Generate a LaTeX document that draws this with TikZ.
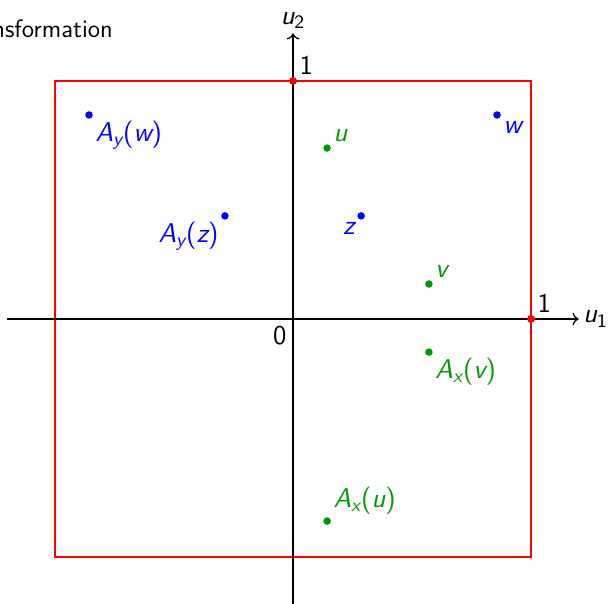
\documentclass[tikz,border=0pt]{standalone}
\usepackage{tikz}
\usetikzlibrary{arrows.meta,positioning}
\definecolor{cOrig}{HTML}{0000FF}
\definecolor{cRefl}{HTML}{009900}
\newcommand{\sfit}[1]{{\sffamily\itshape #1}}
\newcommand{\Ay}[1]{\sfit{A}\textsubscript{\sfit{y}}(\sfit{#1})}
\newcommand{\Ax}[1]{\sfit{A}\textsubscript{\sfit{x}}(\sfit{#1})}

\begin{document}
\begin{tikzpicture}[
    x=4cm, y=4cm,
    font=\sffamily,
    axis/.style={semithick, ->},
    dot/.style={circle, fill, inner sep=0pt, minimum size=3.6pt},
    corner/.style={circle, fill=red, inner sep=0pt, minimum size=3.8pt},
    lbl/.style={inner sep=1.5pt, font=\sffamily\fontsize{13}{15}\selectfont}
]
\useasboundingbox (-1.231,-1.197) rectangle (1.340,1.340);

% --- title (cut at the left edge) ---
\node[anchor=base east, inner sep=0pt, font=\sffamily\large] (title) at (-0.756,1.181) {Transformation};

% --- unit square ---
\draw[red, thick] (-1,-1) rectangle (1,1);

% --- axes ---
\coordinate (xl) at (-1.2,0);
\coordinate (xr) at (1.2,0);
\coordinate (yb) at (0,-1.2);
\coordinate (yt) at (0,1.2);
\draw[axis] (xl) -- (xr) node[lbl, right, inner sep=2pt] (u1) {\sfit{u}\textsubscript{1}};
\draw[axis] (yb) -- (yt) node[lbl, above, inner sep=2pt] (u2) {\sfit{u}\textsubscript{2}};
\node[lbl, below left, inner sep=3pt] (zero) at (0,0) {0};

\node[corner] (ex) at (1,0) {};
\node[corner] (ey) at (0,1) {};
\node[lbl, above right=0pt and 0pt of ex] (one x) {1};
\node[lbl, above right=0pt and 0pt of ey] (one y) {1};

% --- points and their images ---
\node[dot, cOrig] (w) at (0.857,0.857) {};
\node[dot, cOrig] (Ayw) at (-0.857,0.857) {};
\node[dot, cOrig] (z) at (0.286,0.433) {};
\node[dot, cOrig] (Ayz) at (-0.286,0.433) {};
\node[dot, cRefl] (u) at (0.143,0.718) {};
\node[dot, cRefl] (Axu) at (0.143,-0.849) {};
\node[dot, cRefl] (v) at (0.571,0.147) {};
\node[dot, cRefl] (Axv) at (0.571,-0.139) {};

% --- labels ---
\node[lbl, cOrig, below right=0pt and 0pt of w] {\sfit{w}};
\node[lbl, cOrig, below right=0pt and 0pt of Ayw] {\Ay{w}};
\node[lbl, cOrig, below left=0pt and 0pt of z] {\sfit{z}};
\node[lbl, cOrig, below left=0pt and 0pt of Ayz] {\Ay{z}};
\node[lbl, cRefl, above right=0pt and 0pt of u] {\sfit{u}};
\node[lbl, cRefl, above right=0pt and 0pt of Axu] {\Ax{u}};
\node[lbl, cRefl, above right=0pt and 0pt of v] {\sfit{v}};
\node[lbl, cRefl, below right=0pt and 0pt of Axv] {\Ax{v}};

\end{tikzpicture}
\end{document}
